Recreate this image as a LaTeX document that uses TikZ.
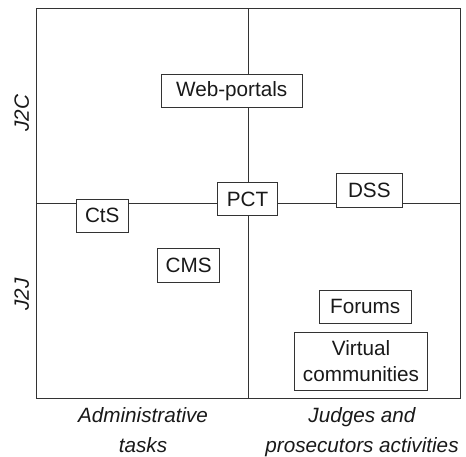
\documentclass[tikz,border=0pt]{standalone}
\usepackage{fontspec}
\setmainfont{Liberation Sans}
\begin{document}
\begin{tikzpicture}[x=1pt,y=-1pt,
  frame/.style={draw=black!80,line width=0.9pt},
  tool/.style={draw=black!80,line width=0.9pt,fill=white,text=black!90,
    inner sep=0pt,align=center,font=\fontsize{20.7}{26.6}\selectfont},
  axislabel/.style={text=black!90,align=center,font=\fontsize{20.7}{30}\selectfont\itshape}]
\useasboundingbox (0,0) rectangle (466,456);
% quadrant frame
\coordinate (tl) at (36.7,8);
\coordinate (br) at (460,398);
\coordinate (vt) at (248.3,8);
\coordinate (vb) at (248.3,398);
\coordinate (hl) at (36.7,203);
\coordinate (hr) at (460,203);
\draw[frame] (tl) rectangle (br);
\draw[frame] (vt) -- (vb);
\draw[frame] (hl) -- (hr);
% tools placed in the quadrants
\node[tool,minimum width=141pt,minimum height=33pt] (web) at (231.7,91.3) {Web-portals};
\node[tool,minimum width=52pt,minimum height=33pt] (cts) at (102.3,215.7) {CtS};
\node[tool,minimum width=60.5pt,minimum height=32.5pt] (pct) at (247.5,199) {PCT};
\node[tool,minimum width=66pt,minimum height=34pt] (dss) at (369.3,190.8) {DSS};
\node[tool,minimum width=62pt,minimum height=34pt] (cms) at (188.7,265.7) {CMS};
\node[tool,minimum width=91.7pt,minimum height=33pt] (forums) at (365.2,306.8) {Forums};
\node[tool,minimum width=133.4pt,minimum height=58.3pt] (vc) at (361,361.2) {Virtual\\communities};
% axis labels
\node[axislabel,rotate=90] (j2c) at (21.7,113) {J2C};
\node[axislabel,rotate=90] (j2j) at (21.7,294.3) {J2J};
\node[axislabel] (adm) at (143,430.5) {Administrative\\tasks};
\node[axislabel] (jud) at (362,432.5) {Judges and\\prosecutors activities};
\end{tikzpicture}
\end{document}
